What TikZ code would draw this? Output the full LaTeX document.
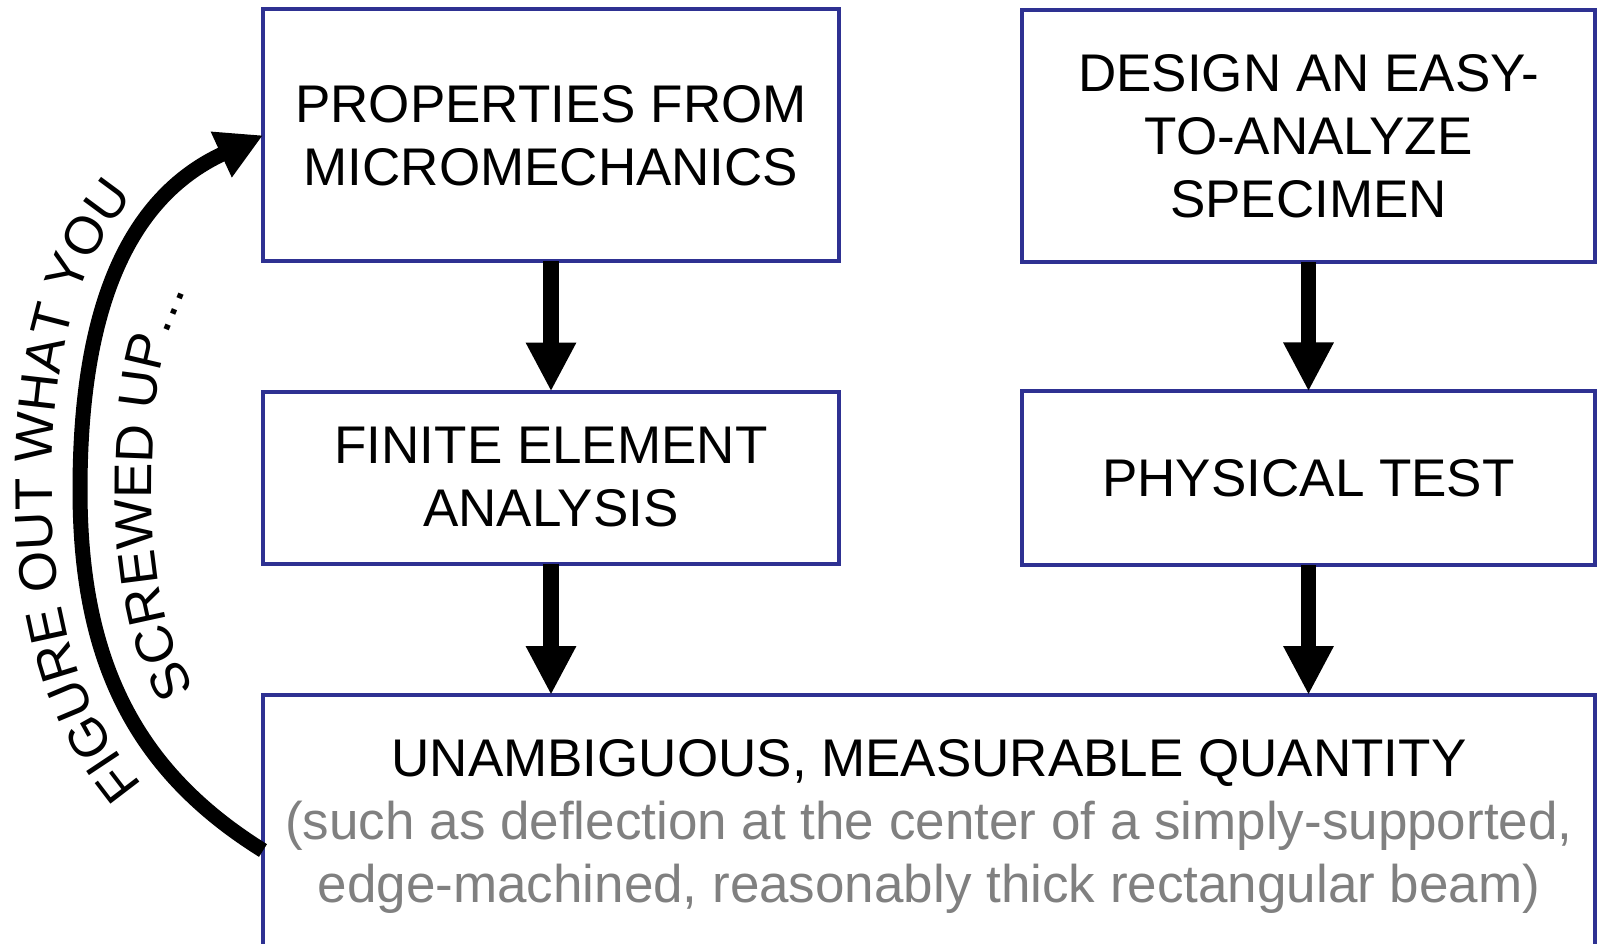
\documentclass[tikz,border=0pt]{standalone}
\usepackage{fontspec}
\setmainfont{Liberation Sans}
\usetikzlibrary{arrows.meta,decorations.text}
\definecolor{boxblue}{RGB}{46,49,146}
\definecolor{subgray}{RGB}{128,128,128}
\begin{document}
\begin{tikzpicture}[x=1pt,y=-1pt,
  flowbox/.style={draw=boxblue, line width=4pt, inner sep=0pt, outer sep=0pt,
    align=center, font=\fontsize{53}{63}\selectfont},
  flowarrow/.style={line width=15.5pt, -{Triangle[length=49pt,width=47pt]}},
  looparrow/.style={line width=15pt, -{Triangle[length=46pt,width=47pt]}},
  curvetext/.style={decorate, decoration={text along path, #1}}]
\useasboundingbox (0,0) rectangle (1597,944);

\node[flowbox, minimum width=576pt, minimum height=252pt] (props) at (551,135.3)
  {PROPERTIES FROM\\MICROMECHANICS};
\node[flowbox, minimum width=573pt, minimum height=252.5pt] (design) at (1308.5,135.8)
  {DESIGN AN EASY-\\TO-ANALYZE\\SPECIMEN};
\node[flowbox, minimum width=576pt, minimum height=172pt] (fea) at (551,477.5)
  {FINITE ELEMENT\\ANALYSIS};
\node[flowbox, minimum width=573pt, minimum height=173.5pt] (test) at (1308.5,478.2)
  {PHYSICAL TEST};
\node[flowbox, minimum width=1332pt, minimum height=251pt] (quant) at (929,820.5)
  {\rule{0pt}{50pt}UNAMBIGUOUS, MEASURABLE QUANTITY\\
   \textcolor{subgray}{(such as deflection at the center of a simply-supported,}\\
   \textcolor{subgray}{edge-machined, reasonably thick rectangular beam)}\rule[-13pt]{0pt}{13pt}};

\draw[flowarrow] (props.south) -- (fea.north);
\draw[flowarrow] (fea.south) -- (quant.north -| fea.south);
\draw[flowarrow] (design.south) -- (test.north);
\draw[flowarrow] (test.south) -- (quant.north -| test.south);

% loop-back arrow
\coordinate (ls) at ([yshift=-30pt]quant.west);
\coordinate (c1) at (134.5,770.5);
\coordinate (c2) at (80,660);
\coordinate (lm) at (80,490);
\coordinate (c3) at (80,310);
\coordinate (c4) at (127,198);
\draw[looparrow] (ls) .. controls (c1) and (c2) .. (lm) .. controls (c3) and (c4) .. (props.west);

% text along the loop (outside and inside of the arrow)
\path[curvetext={text align={left indent=47pt},
    text={|\fontsize{53}{60}\selectfont|FIGURE OUT WHAT YOU}}]
  (174.8,819.1) .. controls (89.3,738.4) and (52,637) .. (52,490)
  .. controls (52,334.5) and (84.1,230.5) .. (173.4,157.3);
\path[curvetext={text align={left indent=43pt},
    text={|\fontsize{53}{60}\selectfont|SCREWED UP…}}]
  (220,724) .. controls (165,659) and (152,575) .. (152,490)
  .. controls (152,415) and (155.6,336.7) .. (197.6,274.6);
\end{tikzpicture}
\end{document}
